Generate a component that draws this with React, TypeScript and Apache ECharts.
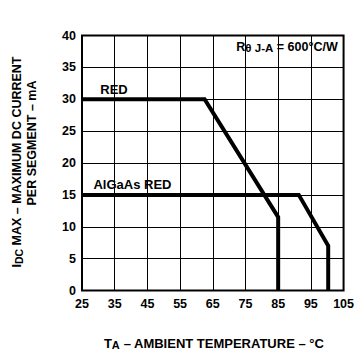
import React, { useEffect, useRef } from "react";
import * as echarts from "echarts";

const xTicks = [25, 35, 45, 55, 65, 75, 85, 95, 105];
const yTicks = [0, 5, 10, 15, 20, 25, 30, 35, 40];
const redCurve: [number, number][] = [
  [25, 30],
  [62.5, 30],
  [85, 11.5],
  [85, 0],
];
const algaasCurve: [number, number][] = [
  [25, 15],
  [91.3, 15],
  [100.3, 7],
  [100.3, 0],
];
const seriesNames = ["RED", "AlGaAs RED"];

const FONT = "'Liberation Sans', Arial, Helvetica, sans-serif";

export default function App() {
  const ref = useRef<HTMLDivElement>(null);
  useEffect(() => {
    document.body.style.margin = "0";
    const chart = echarts.init(ref.current!, null, { renderer: "svg" });
    const xMin = xTicks[0];
    const xMax = xTicks[xTicks.length - 1];
    const yMin = yTicks[0];
    const yMax = yTicks[yTicks.length - 1];
    const bold = { fontFamily: FONT, fontWeight: "bold" as const, fill: "#000" };
    const richA = (size: number) => ({ fontFamily: FONT, fontWeight: "bold", fontSize: size, lineHeight: 14, fill: "#000" });
    const richS = (size: number) => ({ fontFamily: FONT, fontWeight: "bold", fontSize: size, lineHeight: 3, verticalAlign: "bottom", fill: "#000" });
    chart.setOption({
      animation: false,
      backgroundColor: "#fff",
      grid: {
        left: 82,
        top: 35.5,
        right: 13,
        bottom: 62.5,
        show: true,
        borderColor: "#000",
        borderWidth: 2,
        backgroundColor: "transparent",
      },
      xAxis: {
        type: "value",
        min: xMin,
        max: xMax,
        interval: 10,
        axisLine: { show: false },
        axisTick: { show: false },
        splitLine: { show: true, lineStyle: { color: "#000", width: 1 } },
        axisLabel: {
          color: "#000",
          fontFamily: FONT,
          fontWeight: "bold",
          fontSize: 12.5,
          margin: 7,
        },
      },
      yAxis: {
        type: "value",
        min: yMin,
        max: yMax,
        interval: 5,
        axisLine: { show: false },
        axisTick: { show: false },
        splitLine: { show: true, lineStyle: { color: "#000", width: 1 } },
        axisLabel: {
          color: "#000",
          fontFamily: FONT,
          fontWeight: "bold",
          fontSize: 12.5,
          margin: 6,
        },
      },
      series: [
        {
          name: seriesNames[0],
          type: "line",
          data: redCurve,
          symbol: "none",
          lineStyle: { color: "#000", width: 4, join: "miter" },
          z: 5,
        },
        {
          name: seriesNames[1],
          type: "line",
          data: algaasCurve,
          symbol: "none",
          lineStyle: { color: "#000", width: 4, join: "miter" },
          z: 5,
        },
      ],
      graphic: [
        {
          type: "text",
          x: 114,
          y: 89,
          style: { ...bold, text: seriesNames[0], fontSize: 13, align: "center", verticalAlign: "middle" },
          z: 10,
        },
        {
          type: "text",
          x: 132.5,
          y: 184,
          style: { ...bold, text: seriesNames[1], fontSize: 13, align: "center", verticalAlign: "middle" },
          z: 10,
        },
        {
          type: "text",
          x: 287,
          y: 47,
          style: {
            ...bold,
            text: "{a|R}{s|θ }{s|J-A}{a| = 600°C/W}",
            align: "center",
            verticalAlign: "middle",
            rich: { a: richA(12.5), s: richS(11.5) },
          },
          z: 10,
        },
        {
          type: "text",
          x: 214,
          y: 343,
          style: {
            ...bold,
            text: "{a|T}{s|A}{a| – AMBIENT TEMPERATURE – °C}",
            align: "center",
            verticalAlign: "middle",
            rich: { a: richA(13), s: richS(11) },
          },
        },
        {
          type: "text",
          x: 17,
          y: 162,
          rotation: Math.PI / 2,
          style: {
            ...bold,
            text: "{a|I}{s|DC}{a| MAX – MAXIMUM DC CURRENT}",
            align: "center",
            verticalAlign: "middle",
            rich: { a: richA(12.5), s: richS(10.5) },
          },
        },
        {
          type: "text",
          x: 31.5,
          y: 143,
          rotation: Math.PI / 2,
          style: {
            ...bold,
            text: "PER SEGMENT – mA",
            fontSize: 12.5,
            align: "center",
            verticalAlign: "middle",
          },
        },
      ],
    });
    return () => chart.dispose();
  }, []);
  return (
    <div
      ref={ref}
      style={{ position: "absolute", left: 0, top: 0, width: 357, height: 353 }}
    />
  );
}
